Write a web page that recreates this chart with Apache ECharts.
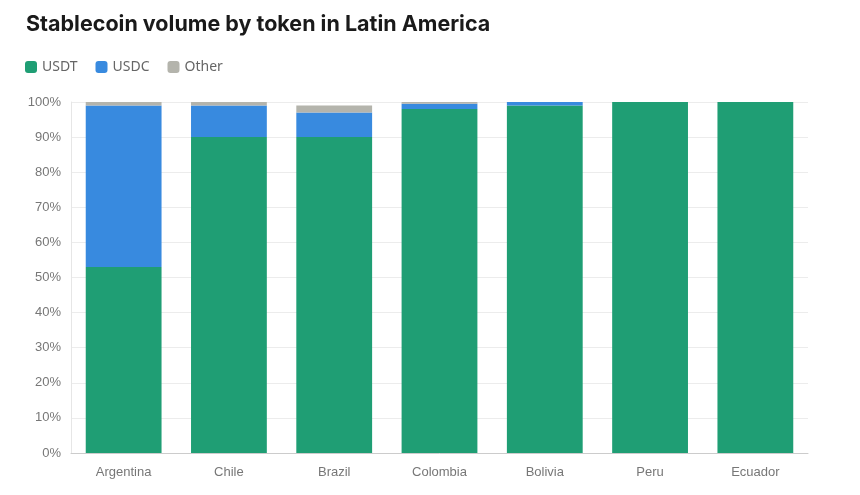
<!DOCTYPE html>
<html>
<head>
    <meta charset="utf-8">
    <title>Stablecoin volume by token in Latin America</title>
    <script src="https://cdn.jsdelivr.net/npm/echarts@6/dist/echarts.min.js"></script>
    <style>
        body { margin: 0; background: #fff; }
    </style>
</head>
<body>
<div id="main" style="width:860px;height:495px"></div>
<script type="text/javascript">
    var countries = ['Argentina', 'Chile', 'Brazil', 'Colombia', 'Bolivia', 'Peru', 'Ecuador'];
    var usdt = [53, 90, 90, 98, 99, 100, 100];
    var usdc = [46, 9, 7, 1.5, 1, 0, 0];
    var other = [1, 1, 2, 0.5, 0, 0, 0];

    var myChart = echarts.init(document.getElementById('main'));

    function barSeries(name, data, color) {
        return {
            name: name,
            type: 'bar',
            stack: 'total',
            barWidth: '72%',
            data: data,
            itemStyle: { color: color },
            emphasis: { disabled: true }
        };
    }

    var option = {
        animation: false,
        title: {
            text: 'Stablecoin volume by token in Latin America',
            left: 21,
            top: 9,
            textStyle: {
                fontFamily: 'Inter',
                fontSize: 21.5,
                fontWeight: 'bold',
                color: '#1a1a1a'
            }
        },
        legend: {
            left: 20,
            top: 55,
            itemWidth: 12,
            itemHeight: 12,
            itemGap: 18,
            icon: 'roundRect',
            textStyle: { color: '#666', fontSize: 14, fontFamily: 'Noto Sans' },
            data: ['USDT', 'USDC', 'Other']
        },
        grid: {
            left: 71,
            right: 52,
            top: 102,
            bottom: 42
        },
        xAxis: {
            type: 'category',
            data: countries,
            axisTick: { show: false },
            axisLine: { lineStyle: { color: '#ccc' } },
            axisLabel: {
                color: '#777',
                fontSize: 13,
                fontFamily: 'Liberation Sans',
                margin: 13
            }
        },
        yAxis: {
            type: 'value',
            min: 0,
            max: 100,
            interval: 10,
            axisLine: { show: true, lineStyle: { color: '#e6e6e6' } },
            splitLine: { lineStyle: { color: '#ececec' } },
            axisLabel: {
                formatter: '{value}%',
                color: '#777',
                fontSize: 13,
                fontFamily: 'Liberation Sans',
                margin: 10
            }
        },
        series: [
            barSeries('USDT', usdt, '#1f9e74'),
            barSeries('USDC', usdc, '#388adf'),
            barSeries('Other', other, '#b4b4ac')
        ]
    };
    myChart.setOption(option);
</script>
</body>
</html>
